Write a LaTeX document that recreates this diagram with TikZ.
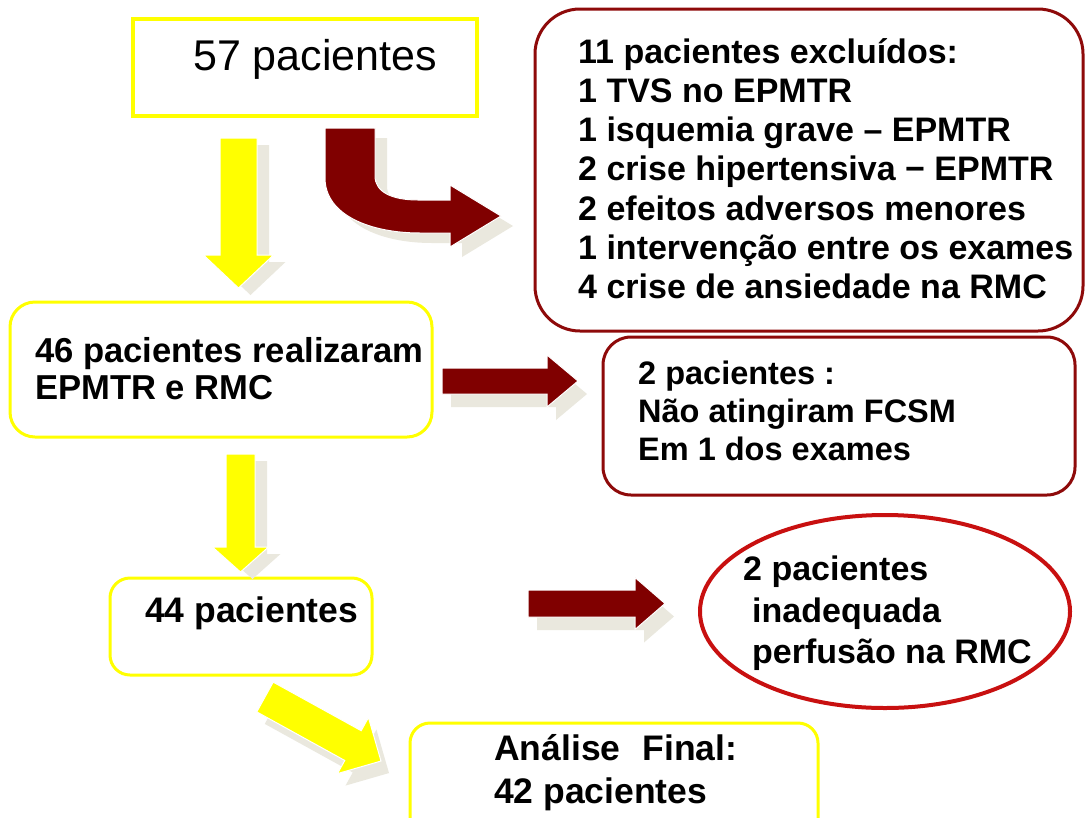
\documentclass[tikz,border=0pt]{standalone}
\usepackage{fontspec}
\setmainfont{Liberation Sans}
\usetikzlibrary{shapes.geometric}
\definecolor{ylw}{HTML}{FFFF00}
\definecolor{mrn}{HTML}{800000}
\definecolor{mrnb}{HTML}{8E0A0A}
\definecolor{redc}{HTML}{C81010}
\definecolor{shd}{HTML}{EAE8DE}
% #1 x, #2 y, #3 angle, #4 length, #5 shaft half width, #6 head half width, #7 head length, #8 colour, #9 shadow offset
\newcommand\blockarrow[9]{%
  \begin{scope}[shift={(#1,#2)}, shift={#9}, rotate=#3]
    \fill[shd] (0,-#5) -- ({#4-#7},-#5) -- ({#4-#7},-#6) -- (#4,0) -- ({#4-#7},#6) -- ({#4-#7},#5) -- (0,#5) -- cycle;
  \end{scope}
  \begin{scope}[shift={(#1,#2)}, rotate=#3]
    \filldraw[fill=#8, draw=white, line width=1pt] (0,-#5) -- ({#4-#7},-#5) -- ({#4-#7},-#6) -- (#4,0) -- ({#4-#7},#6) -- ({#4-#7},#5) -- (0,#5) -- cycle;
  \end{scope}}
\begin{document}
\begin{tikzpicture}[x=1pt,y=-1pt,
  ybox/.style={draw=ylw, line width=3pt, rounded corners=22pt, inner sep=0pt},
  rbox/.style={draw=mrnb, line width=3pt, inner sep=0pt},
  btxt/.style={font=\bfseries\fontsize{34}{40}\selectfont, anchor=base west, inner sep=0pt},
  bbtxt/.style={font=\bfseries\fontsize{35.5}{40}\selectfont, anchor=base west, inner sep=0pt},
  mbtxt/.style={font=\bfseries\fontsize{34.6}{40}\selectfont, anchor=base west, inner sep=0pt},
  sbtxt/.style={font=\bfseries\fontsize{32.5}{40}\selectfont, anchor=base west, inner sep=0pt},
  ntxt/.style={font=\fontsize{43}{48}\selectfont, anchor=base west, inner sep=0pt}]
\fill[white] (0,0) rectangle (1086,817);
\useasboundingbox (0,0) rectangle (1086,817);
\clip (0,0) rectangle (1086,817);

% boxes
\node[ybox, sharp corners, line width=3.5pt, minimum width=344pt, minimum height=97pt] (b57) at (305,67.5) {};
\node[rbox, rounded corners=45pt, minimum width=548pt, minimum height=322pt] (bexc) at (809,170) {};
\node[ybox, rounded corners=25pt, minimum width=422pt, minimum height=135pt] (b46) at (221,369.5) {};
\node[rbox, rounded corners=28pt, minimum width=472pt, minimum height=158pt] (bfc) at (839,416) {};
\node[ybox, rounded corners=20pt, minimum width=262pt, minimum height=97pt] (b44) at (241,626.5) {};
\node[ybox, rounded corners=20pt, minimum width=408pt, minimum height=127pt] (b42) at (614,786.5) {};
\node[ellipse, draw=redc, line width=4pt, minimum width=370pt, minimum height=193pt, inner sep=0pt] (ell) at (885,611.5) {};

% texts
\node[ntxt] (t57) at (193,70) {57 pacientes};
\node[btxt] (e1) at (578,63) {11 pacientes excluídos:};
\node[btxt] (e2) at (578,102) {1 TVS no EPMTR};
\node[btxt] (e3) at (578,141) {1 isquemia grave – EPMTR};
\node[btxt] (e4) at (578,180) {2 crise hipertensiva − EPMTR};
\node[btxt] (e5) at (578,220) {2 efeitos adversos menores};
\node[btxt] (e6) at (578,259) {1 intervenção entre os exames};
\node[btxt] (e7) at (578,298) {4 crise de ansiedade na RMC};
\node[mbtxt] (r1) at (35,362) {46 pacientes realizaram};
\node[mbtxt] (r2) at (35,399) {EPMTR e RMC};
\node[sbtxt] (f1) at (638,384) {2 pacientes :};
\node[sbtxt] (f2) at (638,422) {Não atingiram FCSM};
\node[sbtxt] (f3) at (638,460) {Em 1 dos exames};
\node[bbtxt] (p44) at (145,622) {44 pacientes};
\node[btxt] (i1) at (743,580) {2 pacientes};
\node[btxt] (i2) at (752,622) {inadequada};
\node[btxt] (i3) at (752,663) {perfusão na RMC};
\node[bbtxt] (a1) at (494,760) {Análise\hspace{22pt}Final:};
\node[bbtxt] (a2) at (494,803) {42 pacientes};

% yellow arrows
\blockarrow{238.5}{138}{-90}{150}{18.5}{35}{33}{ylw}{(12,7)}
\blockarrow{240.5}{454}{-90}{118}{14.5}{28}{25}{ylw}{(12,7)}
\blockarrow{265}{697}{-28.9}{132.5}{17}{32}{32}{ylw}{(8,12)}

% dark red straight arrows
\blockarrow{442}{381}{0}{136}{13}{26}{31}{mrn}{(9,13)}
\blockarrow{528}{603.5}{0}{137}{13.5}{26}{30}{mrn}{(9,13)}

% U-turn arrow
\begin{scope}[shift={(12,10)}]
\fill[shd] (325,128) -- (325,178) .. controls (325,215) and (370,233) .. (420,233) -- (450,233) -- (450,247) -- (501,216) -- (450,185) -- (450,200) -- (418,200) .. controls (392,200) and (375,192) .. (375,176) -- (375,128) -- cycle;
\end{scope}
\filldraw[fill=mrn, draw=white, line width=1pt] (325,128) -- (325,178) .. controls (325,215) and (370,233) .. (420,233) -- (450,233) -- (450,247) -- (501,216) -- (450,185) -- (450,200) -- (418,200) .. controls (392,200) and (375,192) .. (375,176) -- (375,128) -- cycle;
\end{tikzpicture}
\end{document}
